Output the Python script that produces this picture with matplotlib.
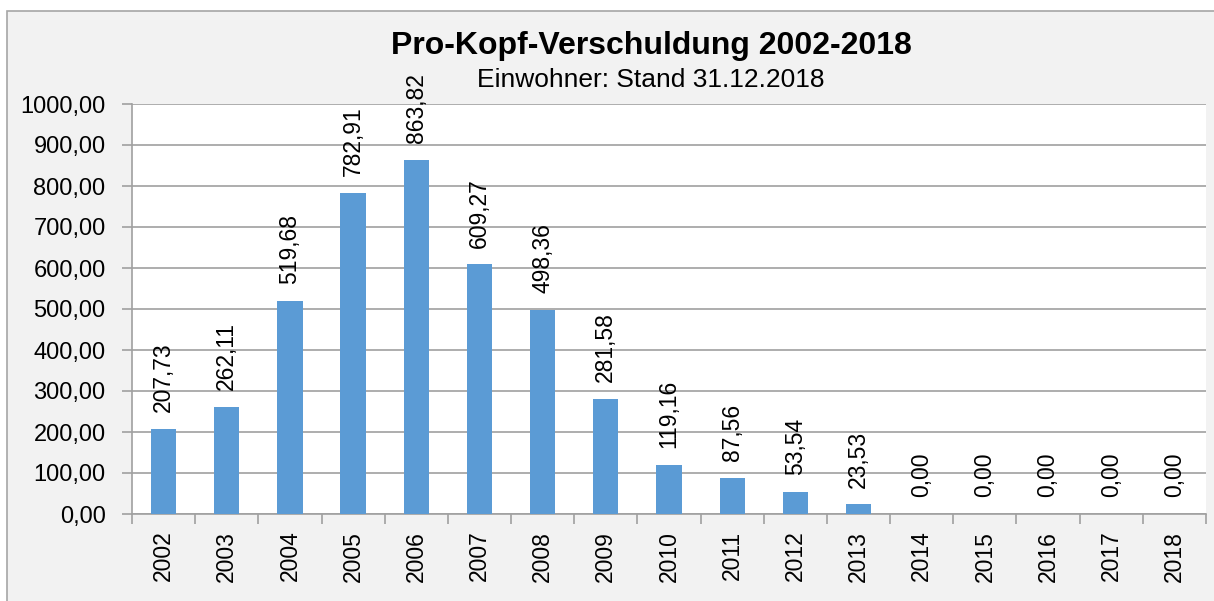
import matplotlib
matplotlib.use("Agg")
import matplotlib.pyplot as plt
from matplotlib.patches import Rectangle
from matplotlib.ticker import FuncFormatter, FixedLocator

years = ["2002", "2003", "2004", "2005", "2006", "2007", "2008", "2009", "2010",
         "2011", "2012", "2013", "2014", "2015", "2016", "2017", "2018"]
values = [207.73, 262.11, 519.68, 782.91, 863.82, 609.27, 498.36, 281.58, 119.16,
          87.56, 53.54, 23.53, 0.00, 0.00, 0.00, 0.00, 0.00]
title = "Pro-Kopf-Verschuldung 2002-2018"
subtitle = "Einwohner: Stand 31.12.2018"

plt.rcParams['font.family'] = ['Liberation Sans', 'DejaVu Sans']

fig = plt.figure(figsize=(12.14, 6.01), dpi=100, facecolor="white")
fig.patches.append(Rectangle((7/1214, -0.05), 1.1, 1 - 11/601 + 0.05,
                             transform=fig.transFigure, facecolor="#f2f2f2",
                             edgecolor="#a6a6a6", linewidth=1.2, zorder=0))

ax = fig.add_axes([132/1214, 1 - 514/601, (1206 - 132)/1214, (514 - 104)/601])
ax.set_facecolor("white")
ax.set_zorder(1)

x = list(range(len(years)))
ax.bar(x, values, width=0.4, color="#5b9bd5", zorder=3)

for xi, v in zip(x, values):
    ax.annotate(f"{v:.2f}".replace(".", ","), (xi, v), xytext=(0, 12),
                textcoords="offset points", rotation=90, ha="center", va="bottom",
                fontsize=16.5, color="black", zorder=4, annotation_clip=False)

ax.set_xlim(-0.5, len(years) - 0.5)
ax.set_ylim(0, 1000)
ax.set_yticks(range(0, 1001, 100))
ax.yaxis.set_major_formatter(FuncFormatter(lambda v, p: f"{v:.2f}".replace(".", ",")))
ax.grid(axis="y", color="#a0a0a0", linewidth=1.2, zorder=1)

ax.set_xticks(x)
ax.set_xticklabels(years, rotation=90, fontsize=16.5)
ax.xaxis.set_minor_locator(FixedLocator([i - 0.5 for i in range(len(years) + 1)]))
ax.tick_params(axis="x", which="major", length=0, pad=12)
ax.tick_params(axis="x", which="minor", length=7, color="#a0a0a0", width=1.2)
ax.tick_params(axis="y", length=7, color="#a0a0a0", width=1.2, labelsize=17, pad=12)

for s in ["top", "right"]:
    ax.spines[s].set_visible(False)
for s in ["left", "bottom"]:
    ax.spines[s].set_color("#a0a0a0")
    ax.spines[s].set_linewidth(1.2)

fig.text(651/1214, 1 - 46/601, title, ha="center", va="center",
         fontsize=23, fontweight="bold")
fig.text(651/1214, 1 - 80/601, subtitle, ha="center", va="center", fontsize=19)

fig.savefig("out.png", dpi=100, facecolor="white")
